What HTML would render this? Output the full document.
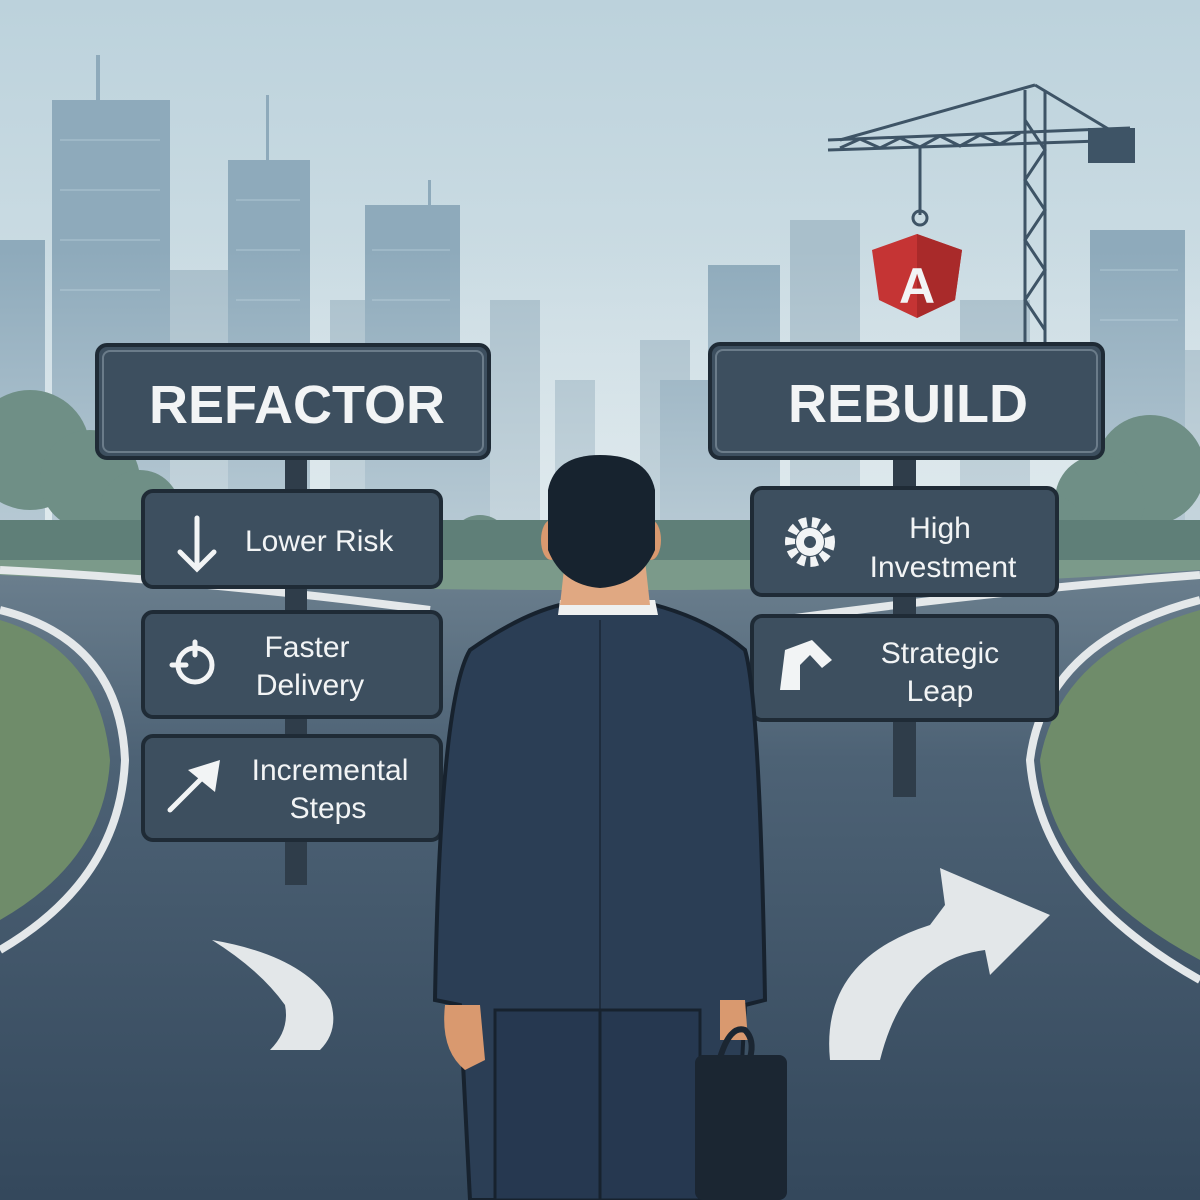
<!DOCTYPE html>
<html><head><meta charset="utf-8"><style>
html,body{margin:0;padding:0;width:1200px;height:1200px;overflow:hidden;background:#dfe8ec}
svg{display:block}
text{font-family:"Liberation Sans","DejaVu Sans",sans-serif;fill:#f2f4f5}
</style></head><body>
<svg width="1200" height="1200" viewBox="0 0 1200 1200" xmlns="http://www.w3.org/2000/svg">
<defs>
<linearGradient id="sky" x1="0" y1="0" x2="0" y2="1">
<stop offset="0" stop-color="#bcd2dc"/><stop offset="0.5" stop-color="#dde8ec"/><stop offset="1" stop-color="#eef2f2"/>
</linearGradient>
<linearGradient id="fog" x1="0" y1="0" x2="0" y2="1">
<stop offset="0" stop-color="#e6eef1" stop-opacity="0"/><stop offset="1" stop-color="#e6eef1" stop-opacity="0.55"/>
</linearGradient>
<linearGradient id="road" x1="0" y1="0" x2="0" y2="1">
<stop offset="0" stop-color="#6b7f8e"/><stop offset="0.3" stop-color="#4d6275"/><stop offset="1" stop-color="#34485c"/>
</linearGradient>
</defs>
<rect width="1200" height="1200" fill="url(#sky)"/>
<g fill="#a9bfcb">
<rect x="170" y="270" width="70" height="300"/><rect x="330" y="300" width="60" height="260"/>
<rect x="640" y="340" width="50" height="230"/><rect x="790" y="220" width="70" height="350"/>
<rect x="960" y="300" width="70" height="270"/><rect x="1150" y="350" width="50" height="220"/>
<rect x="490" y="300" width="50" height="270"/><rect x="555" y="380" width="40" height="190"/>
</g>
<g fill="#8eaabb">
<rect x="0" y="240" width="45" height="330"/><rect x="52" y="100" width="118" height="470"/>
<rect x="228" y="160" width="82" height="410"/><rect x="365" y="205" width="95" height="365"/>
<rect x="708" y="265" width="72" height="305"/><rect x="1090" y="230" width="95" height="340"/>
<rect x="660" y="380" width="50" height="190"/><rect x="450" y="380" width="40" height="190"/>
<rect x="96" y="55" width="4" height="50"/><rect x="266" y="95" width="3" height="70"/><rect x="428" y="180" width="3" height="30"/>
</g>
<g stroke="#a3bccb" stroke-width="2" opacity="0.8">
<line x1="60" y1="140" x2="160" y2="140"/><line x1="60" y1="190" x2="160" y2="190"/><line x1="60" y1="240" x2="160" y2="240"/><line x1="60" y1="290" x2="160" y2="290"/>
<line x1="236" y1="200" x2="300" y2="200"/><line x1="236" y1="250" x2="300" y2="250"/><line x1="236" y1="300" x2="300" y2="300"/>
<line x1="372" y1="250" x2="450" y2="250"/><line x1="372" y1="300" x2="450" y2="300"/>
<line x1="1100" y1="270" x2="1178" y2="270"/><line x1="1100" y1="320" x2="1178" y2="320"/>
</g>
<rect x="0" y="250" width="1200" height="330" fill="url(#fog)"/>
<g stroke="#3e5466" stroke-width="3" fill="none">
<line x1="1025" y1="90" x2="1025" y2="345"/><line x1="1045" y1="90" x2="1045" y2="345"/>
<path d="M1025 120 L1045 150 L1025 180 L1045 210 L1025 240 L1045 270 L1025 300 L1045 330"/>
<line x1="828" y1="140" x2="1130" y2="128"/><line x1="828" y1="150" x2="1130" y2="140"/>
<path d="M840 148 L860 139 L880 148 L900 138 L920 147 L940 136 L960 146 L980 135 L1000 144 L1020 133"/>
<line x1="1035" y1="85" x2="840" y2="140"/><line x1="1035" y1="85" x2="1110" y2="130"/>
<line x1="920" y1="148" x2="920" y2="215"/>
</g>
<rect x="1088" y="128" width="47" height="35" fill="#3e5466"/>
<circle cx="920" cy="218" r="7" fill="none" stroke="#3e5466" stroke-width="3"/>
<path d="M917 234 L962 250 L955 300 L917 318 L879 300 L872 250 Z" fill="#c53434"/>
<path d="M917 234 L962 250 L955 300 L917 318 Z" fill="#a92a2a"/>
<text x="917" y="303" font-size="50" font-weight="bold" text-anchor="middle">A</text>
<g fill="#6f8f86">
<circle cx="30" cy="450" r="60"/><circle cx="90" cy="480" r="50"/><circle cx="140" cy="510" r="40"/>
<circle cx="1150" cy="470" r="55"/><circle cx="1100" cy="500" r="45"/><circle cx="1050" cy="530" r="35"/>
<circle cx="480" cy="545" r="30"/><circle cx="530" cy="555" r="25"/><circle cx="690" cy="555" r="25"/><circle cx="735" cy="550" r="28"/>
</g>
<rect x="0" y="520" width="1200" height="60" fill="#5f7f78"/>
<rect x="0" y="560" width="1200" height="60" fill="#7b9a8a"/>
<path d="M0 575 Q300 590 560 590 L660 590 Q900 590 1200 570 L1200 1200 L0 1200 Z" fill="url(#road)"/>
<path d="M0 620 Q100 650 110 760 Q105 860 0 920 Z" fill="#6f8c6a"/>
<path d="M1200 610 Q1060 650 1040 760 Q1050 880 1200 960 Z" fill="#6f8c6a"/>
<g fill="none" stroke="#e4e8ea" stroke-width="8">
<path d="M0 610 Q120 640 125 760 Q120 880 0 950"/>
<path d="M1200 600 Q1045 640 1030 760 Q1040 890 1200 980"/>
<path d="M0 570 Q200 580 430 610"/>
<path d="M1200 575 Q1000 590 780 620"/>
</g>
<path d="M212 940 Q300 955 330 1000 Q340 1030 320 1050 L270 1050 Q290 1030 285 1005 Q260 970 212 940 Z" fill="#e3e7e9"/>
<path d="M830 1060 Q820 960 930 925 L945 905 L940 868 L1050 915 L990 975 L985 950 Q905 960 880 1060 Z" fill="#e3e7e9"/>
<rect x="285" y="455" width="22" height="430" fill="#2f3d4a"/>
<rect x="893" y="455" width="23" height="342" fill="#2f3d4a"/>
<g stroke="#1f2b36" stroke-width="4" fill="#3d4f5f">
<rect x="97" y="345" width="392" height="113" rx="10"/>
<rect x="710" y="344" width="393" height="114" rx="10"/>
<rect x="143" y="491" width="298" height="96" rx="10"/>
<rect x="143" y="612" width="298" height="105" rx="10"/>
<rect x="143" y="736" width="298" height="104" rx="10"/>
<rect x="752" y="488" width="305" height="107" rx="10"/>
<rect x="752" y="616" width="305" height="104" rx="10"/>
</g>
<g stroke="#6b7c8a" stroke-width="2" fill="none">
<rect x="103" y="351" width="380" height="101" rx="7"/>
<rect x="716" y="350" width="381" height="102" rx="7"/>
</g>
<text x="297" y="423" font-size="54" font-weight="bold" text-anchor="middle">REFACTOR</text>
<text x="908" y="422" font-size="54" font-weight="bold" text-anchor="middle">REBUILD</text>
<text x="245" y="551" font-size="30">Lower Risk</text>
<text x="307" y="657" font-size="30" text-anchor="middle">Faster</text>
<text x="310" y="695" font-size="30" text-anchor="middle">Delivery</text>
<text x="330" y="780" font-size="30" text-anchor="middle">Incremental</text>
<text x="328" y="818" font-size="30" text-anchor="middle">Steps</text>
<text x="940" y="538" font-size="30" text-anchor="middle">High</text>
<text x="943" y="577" font-size="30" text-anchor="middle">Investment</text>
<text x="940" y="663" font-size="30" text-anchor="middle">Strategic</text>
<text x="940" y="701" font-size="30" text-anchor="middle">Leap</text>
<g stroke="#f2f4f5" stroke-width="5" fill="none" stroke-linecap="round">
<path d="M197 518 L197 568 M180 552 L197 569 L214 552"/>
<circle cx="195" cy="665" r="17"/><path d="M172 665 L186 665 M195 642 L195 655"/>
<path d="M170 810 L208 772"/>
</g>
<path d="M220 760 L215 792 L188 770 Z" fill="#f2f4f5"/>
<circle cx="810" cy="542" r="20" fill="none" stroke="#f2f4f5" stroke-width="10" stroke-dasharray="7 5"/>
<circle cx="810" cy="542" r="14" fill="#f2f4f5"/><circle cx="810" cy="542" r="6" fill="#3d4f5f"/>
<path d="M785 650 L812 640 L832 660 L822 668 L810 655 L800 665 L800 690 L780 690 Z" fill="#f2f4f5"/>
<path d="M470 650 Q520 615 560 605 L655 605 Q710 620 745 650 Q760 700 765 1000 L745 1005 L735 1200 L470 1200 L460 1005 L435 1000 Q440 700 470 650 Z" fill="#2b3e55" stroke="#17222e" stroke-width="4"/>
<path d="M600 620 L600 1020" stroke="#1e2c3d" stroke-width="2"/>
<path d="M495 1010 L700 1010 L700 1200 L495 1200 Z" fill="#263850" stroke="#17222e" stroke-width="3"/>
<path d="M600 1010 L600 1200" stroke="#17222e" stroke-width="3"/>
<path d="M560 600 L655 600 L658 615 L558 615 Z" fill="#eef0f0"/>
<path d="M565 560 L645 560 L650 605 L560 605 Z" fill="#e0a882"/>
<ellipse cx="551" cy="540" rx="10" ry="20" fill="#d9996f"/><ellipse cx="651" cy="540" rx="10" ry="20" fill="#d9996f"/>
<path d="M548 490 Q555 455 600 455 Q648 455 655 490 L655 550 Q640 585 600 588 Q562 585 548 550 Z" fill="#17232f"/>
<path d="M445 1005 Q440 1050 465 1070 L485 1060 L480 1005 Z" fill="#d9996f"/>
<path d="M720 1000 L745 1000 L748 1040 L720 1040 Z" fill="#d9996f"/>
<rect x="695" y="1055" width="92" height="145" rx="8" fill="#1b2632"/>
<path d="M720 1058 Q730 1025 745 1030 Q755 1040 750 1058" fill="none" stroke="#1b2632" stroke-width="6"/>
</svg>
</body></html>
